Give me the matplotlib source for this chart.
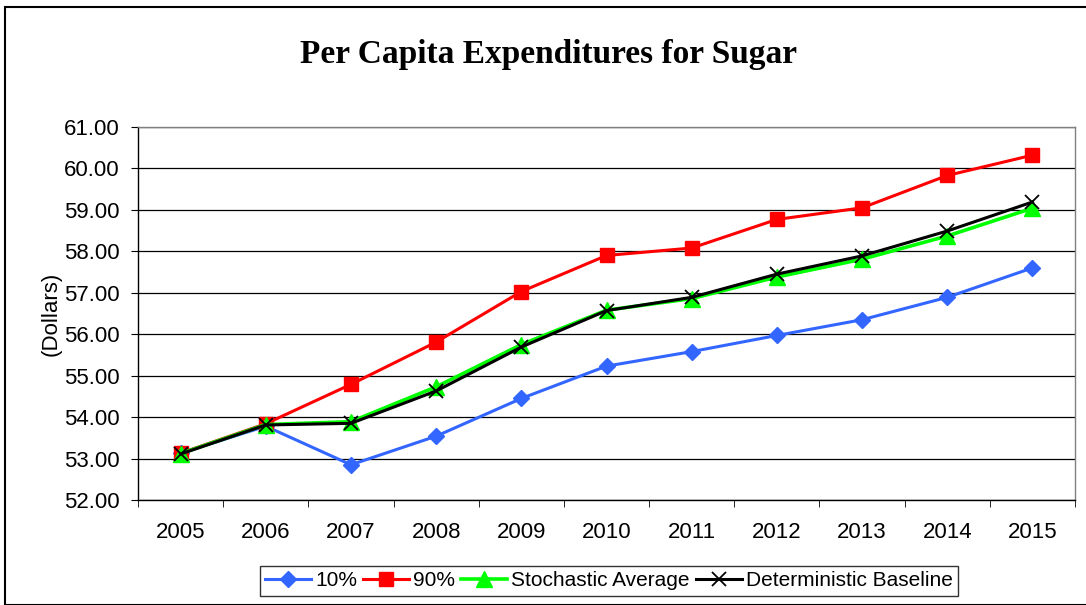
import matplotlib
matplotlib.use("Agg")
import matplotlib.pyplot as plt
from matplotlib.patches import Rectangle
import numpy as np

years = ["2005", "2006", "2007", "2008", "2009", "2010", "2011", "2012", "2013", "2014", "2015"]
p10 = [53.13, 53.78, 52.85, 53.54, 54.45, 55.23, 55.58, 55.97, 56.35, 56.89, 57.60]
p90 = [53.13, 53.84, 54.79, 55.81, 57.03, 57.90, 58.08, 58.77, 59.05, 59.83, 60.32]
stoch = [53.12, 53.82, 53.89, 54.73, 55.75, 56.58, 56.86, 57.38, 57.81, 58.37, 59.04]
determ = [53.11, 53.81, 53.85, 54.63, 55.69, 56.57, 56.89, 57.45, 57.89, 58.49, 59.19]
yticks = [52, 53, 54, 55, 56, 57, 58, 59, 60, 61]

plt.rcParams['font.family'] = ['Liberation Sans', 'DejaVu Sans']

fig = plt.figure(figsize=(10.86, 6.05), dpi=100)
fig.patches.append(Rectangle((5/1086, 0), 1.0, 1 - 7/605, transform=fig.transFigure,
                             fill=False, edgecolor='black', linewidth=1.5))

ax = fig.add_axes([138/1086, 1 - 500/605, (1075 - 138)/1086, (500 - 127)/605])
x = np.arange(len(years))

ax.plot(x, p10, color='#3366FF', lw=2.2, marker='D', ms=8, label='10%', zorder=3)
ax.plot(x, p90, color='#FF0000', lw=2.2, marker='s', ms=10.5, label='90%', zorder=3)
ax.plot(x, stoch, color='#00FF00', lw=2.6, marker='^', ms=11, label='Stochastic Average', zorder=4)
ax.plot(x, determ, color='#000000', lw=2.2, marker='x', ms=10, mew=1.3, label='Deterministic Baseline', zorder=5)

ax.set_xlim(-0.5, len(years) - 0.5)
ax.set_ylim(52, 61)
ax.set_yticks(yticks)
ax.set_yticklabels([f"{v:.2f}" for v in yticks], fontsize=16)
ax.set_xticks(x)
ax.set_xticklabels(years, fontsize=16)
ax.set_xticks(np.arange(-0.5, len(years), 1.0), minor=True)
ax.tick_params(axis='x', which='major', length=0, pad=16)
ax.tick_params(axis='x', which='minor', length=5, direction='out', color='black')
ax.tick_params(axis='y', which='major', length=5, direction='out', pad=8)

ax.yaxis.grid(True, color='black', lw=0.9)
ax.set_axisbelow(True)
for s in ['top', 'right']:
    ax.spines[s].set_color('#808080')
    ax.spines[s].set_linewidth(1.0)
for s in ['left', 'bottom']:
    ax.spines[s].set_color('black')
    ax.spines[s].set_linewidth(1.0)

ax.set_ylabel('(Dollars)', fontsize=16, labelpad=2)

fig.text(0.505, 1 - 55/605, 'Per Capita Expenditures for Sugar', ha='center', va='center',
         fontsize=24, fontweight='bold', family=['Liberation Serif', 'DejaVu Serif'])

leg = fig.legend(loc='center', bbox_to_anchor=(609/1086, 1 - 581/605), ncol=4, fontsize=15,
                 frameon=True, fancybox=False, edgecolor='black', handlelength=2.2,
                 handletextpad=0.2, columnspacing=0.3, borderpad=0.25)
leg.get_frame().set_linewidth(1.0)

fig.savefig('out.png', dpi=100)
